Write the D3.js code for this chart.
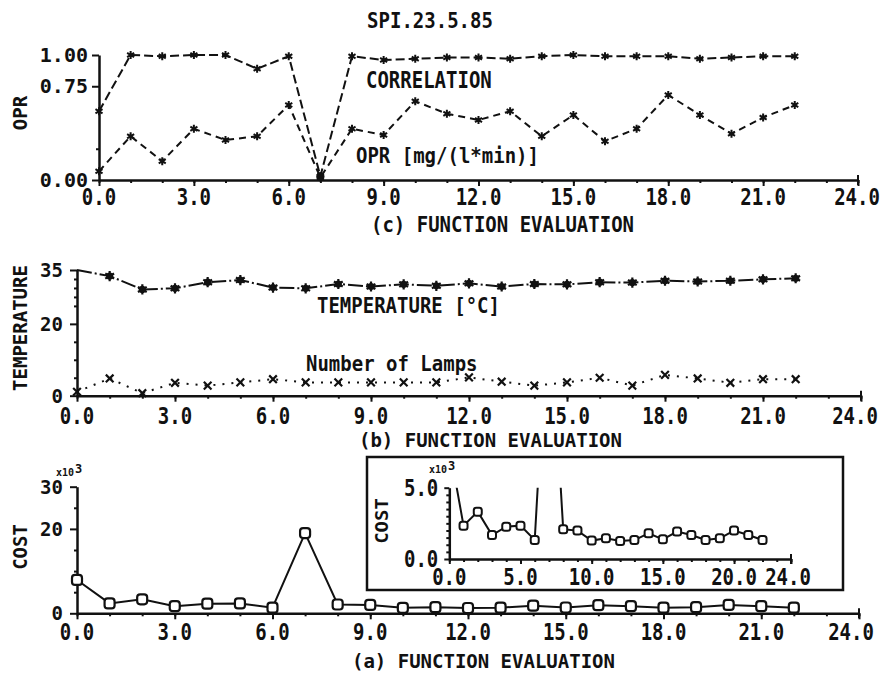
<!DOCTYPE html>
<html>
<head>
<meta charset="utf-8">
<script src="https://cdn.jsdelivr.net/npm/d3@7"></script>
<style>
  html, body { margin: 0; padding: 0; background: #fff; }
  svg { display: block; }
  text { font-family: "DejaVu Sans Mono", "Liberation Mono", monospace; font-weight: bold; fill: #111; }
</style>
</head>
<body>
<svg id="chart" width="882" height="677"></svg>
<script>
// Function evaluation index (x) shared by all three panels
const evals = [0,1,2,3,4,5,6,7,8,9,10,11,12,13,14,15,16,17,18,19,20,21,22];

// (c) correlation and OPR [mg/(l*min)]
const correlation = [0.55,1.00,0.99,1.00,1.00,0.89,0.99,0.03,0.99,0.96,0.97,0.98,0.98,0.97,0.99,1.00,0.99,0.99,0.99,0.97,0.98,0.99,0.99];
const opr = [0.07,0.35,0.15,0.41,0.32,0.35,0.60,0.02,0.41,0.36,0.63,0.53,0.48,0.55,0.35,0.52,0.31,0.41,0.68,0.52,0.37,0.50,0.60];

// (b) temperature [°C] and number of lamps
const temperature = [35.0,33.3,29.6,29.9,31.6,32.2,30.1,29.9,31.1,30.4,31.0,30.6,31.3,30.4,31.1,31.0,31.6,31.5,32.0,31.8,32.0,32.4,32.7];
const lamps = [1.1,4.8,0.7,3.6,2.8,3.7,4.6,3.7,3.7,3.7,3.7,3.7,5.1,3.9,2.8,3.7,5.0,2.8,5.8,4.8,3.6,4.6,4.6];

// (a) cost, in units of 10^3
const cost = [7.9,2.34,3.32,1.68,2.27,2.34,1.33,19.0,2.08,1.99,1.29,1.45,1.26,1.33,1.80,1.38,1.92,1.68,1.33,1.45,1.99,1.68,1.33];

// Tick values
const xMajorTicks = [0,3,6,9,12,15,18,21,24];
const xMinorTicks = [0,1,2,3,4,5,6,7,8,9,10,11,12,13,14,15,16,17,18,19,20,21,22,23,24];
const insetXMajorTicks = [0,5,10,15,20,24];
const oprTicks = [0,0.75,1];
const oprMinorTicks = [0.25];
const tempTicks = [0,20,35];
const tempMinorTicks = [5,10,15,25,27.5,30,32.5];
const costTicks = [0,20,30];
const costMinorTicks = [5,10,15,25];
const insetCostTicks = [0,5];
const insetCostMinorTicks = [0.5,1,1.5,2,2.5,3,3.5,4,4.5];

const svg = d3.select('#chart');

// Plotter-style lettering: tall, narrow monospace
function label(g, s, x, yc, o = {}) {
  const fs = o.fs || 19, sy = o.sy || 1.22, anchor = o.anchor || 'middle';
  const cap = 0.729 * fs * sy;
  const tr = o.rot
    ? `translate(${x},${yc}) rotate(-90) translate(0,${cap / 2}) scale(1,${sy})`
    : `translate(${x},${yc + cap / 2}) scale(1,${sy})`;
  return g.append('text').text(s)
    .attr('transform', tr)
    .attr('text-anchor', anchor)
    .attr('font-size', fs);
}

function styleAxis(sel, w) {
  sel.selectAll('path.domain').attr('stroke', '#111').attr('stroke-width', w);
  sel.selectAll('.tick line').attr('stroke', '#111').attr('stroke-width', 2);
  sel.selectAll('.tick text').remove();
}

function drawAxes(g, x, y, cfg) {
  const y0 = y(0), x0 = x(0);
  // x minor ticks
  g.append('g').attr('transform', `translate(0,${y0})`)
    .call(d3.axisBottom(x).tickValues(cfg.xMinor).tickSize(cfg.minorLen || 3).tickFormat(''))
    .call(s => s.select('path.domain').remove())
    .call(s => styleAxis(s, 2));
  // x major ticks and baseline
  g.append('g').attr('transform', `translate(0,${y0})`)
    .call(d3.axisBottom(x).tickValues(cfg.xMajor).tickSize(cfg.majorLen || 6).tickSizeOuter(0).tickFormat(''))
    .call(s => styleAxis(s, 2.5));
  // end tick crossing the axis
  g.append('line').attr('x1', x(24)).attr('x2', x(24))
    .attr('y1', y0 - 5).attr('y2', y0 + 5).attr('stroke', '#111').attr('stroke-width', 2);
  // y minor ticks
  g.append('g').attr('transform', `translate(${x0},0)`)
    .call(d3.axisLeft(y).tickValues(cfg.yMinor).tickSize(cfg.minorLen || 3).tickFormat(''))
    .call(s => s.select('path.domain').remove())
    .call(s => styleAxis(s, 2));
  // y major ticks and axis line
  g.append('g').attr('transform', `translate(${x0},0)`)
    .call(d3.axisLeft(y).tickValues(cfg.yMajor).tickSize(cfg.majorLen || 7).tickSizeOuter(0).tickFormat(''))
    .call(s => styleAxis(s, 2.5));
  // tick labels; the last x label is pulled in so it stays on the sheet
  const last = cfg.xMajor[cfg.xMajor.length - 1];
  cfg.xMajor.forEach(v => {
    const px = (v === last && cfg.lastShift) ? x(v) - cfg.lastShift : x(v);
    label(g, d3.format('.1f')(v), px, y0 + cfg.xLabelGap, { fs: 19, sy: 1.22 });
  });
  cfg.yMajor.forEach(v => label(g, cfg.yFormat(v), x0 - cfg.yLabelGap, y(v), { fs: cfg.yFs || 19, sy: cfg.ySy || 1.02, anchor: 'end' }));
}

function asterisk(g, pts, r, w) {
  const sym = d3.symbol(d3.symbolAsterisk, r * r * 2.9);
  g.selectAll(null).data(pts).join('path')
    .attr('d', sym)
    .attr('transform', d => `translate(${d[0]},${d[1]})`)
    .attr('fill', 'none').attr('stroke', '#111').attr('stroke-width', w);
}

// ---------------- (c) correlation / OPR ----------------
const xC = d3.scaleLinear().domain([0, 24]).range([99, 858]);
const yC = d3.scaleLinear().domain([0, 1]).range([180, 55]);
const gC = svg.append('g');

label(gC, 'SPI.23.5.85', 430, 20.5, { fs: 19, sy: 1.08 });

drawAxes(gC, xC, yC, {
  xMajor: xMajorTicks, xMinor: xMinorTicks,
  yMajor: oprTicks, yMinor: oprMinorTicks,
  yFormat: d3.format('.2f'), xLabelGap: 17, yLabelGap: 11, yFs: 20, ySy: 0.98,
  lastShift: 1
});

const lineC = d3.line().x(d => xC(d[0])).y(d => yC(d[1]));
const corrPts = evals.map((e, i) => [e, correlation[i]]);
const oprPts = evals.map((e, i) => [e, opr[i]]);
gC.append('path').attr('d', lineC(corrPts)).attr('fill', 'none')
  .attr('stroke', '#111').attr('stroke-width', 2).attr('stroke-dasharray', '9,4');
gC.append('path').attr('d', lineC(oprPts)).attr('fill', 'none')
  .attr('stroke', '#111').attr('stroke-width', 2).attr('stroke-dasharray', '7,5');
asterisk(gC, corrPts.map(d => [xC(d[0]), yC(d[1])]), 4, 2);
asterisk(gC, oprPts.map(d => [xC(d[0]), yC(d[1])]), 4, 2);
// coinciding points at the failed evaluation
gC.append('circle').attr('cx', xC(7)).attr('cy', yC(0.03)).attr('r', 4).attr('fill', '#111');

label(gC, 'CORRELATION', 366, 80, { anchor: 'start' });
label(gC, 'OPR [mg/(l*min)]', 356, 155, { anchor: 'start', sy: 1.1 });
label(gC, 'OPR', 20, 113, { rot: true, sy: 1.05 });
label(gC, '(c) FUNCTION EVALUATION', 371, 224, { anchor: 'start', sy: 1.1 });

// ---------------- (b) temperature / lamps ----------------
const xB = d3.scaleLinear().domain([0, 24]).range([77, 861]);
const yB = d3.scaleLinear().domain([0, 35]).range([395.7, 270]);
const gB = svg.append('g');

drawAxes(gB, xB, yB, {
  xMajor: xMajorTicks, xMinor: xMinorTicks,
  yMajor: tempTicks, yMinor: tempMinorTicks,
  yFormat: d3.format('d'), xLabelGap: 20, yLabelGap: 14,
  lastShift: 6
});

const lineB = d3.line().x(d => xB(d[0])).y(d => yB(d[1]));
const tempPts = evals.map((e, i) => [e, temperature[i]]);
const lampPts = evals.map((e, i) => [e, lamps[i]]);
gB.append('path').attr('d', lineB(tempPts)).attr('fill', 'none')
  .attr('stroke', '#111').attr('stroke-width', 2).attr('stroke-dasharray', '15,3,2,3');
gB.append('path').attr('d', lineB(lampPts)).attr('fill', 'none')
  .attr('stroke', '#111').attr('stroke-width', 2).attr('stroke-dasharray', '2,7');
const tempXY = tempPts.slice(1).map(d => [xB(d[0]), yB(d[1])]);
gB.selectAll(null).data(tempXY).join('circle')
  .attr('cx', d => d[0]).attr('cy', d => d[1]).attr('r', 3.6).attr('fill', '#111');
asterisk(gB, tempXY, 5, 2.2);
gB.selectAll(null).data(lampPts).join('path')
  .attr('d', d3.symbol(d3.symbolTimes, 40))
  .attr('transform', d => `translate(${xB(d[0])},${yB(d[1])})`)
  .attr('fill', 'none').attr('stroke', '#111').attr('stroke-width', 2.2);

label(gB, 'TEMPERATURE [°C]', 317, 305, { anchor: 'start', sy: 1.1 });
label(gB, 'Number of Lamps', 306, 363, { anchor: 'start', sy: 1.1 });
label(gB, 'TEMPERATURE', 20, 328, { rot: true, sy: 1.05 });
label(gB, '(b) FUNCTION EVALUATION', 359, 440, { anchor: 'start', sy: 1.05 });

// ---------------- (a) cost ----------------
const xA = d3.scaleLinear().domain([0, 24]).range([77, 859]);
const yA = d3.scaleLinear().domain([0, 30]).range([613.3, 486.7]);
const gA = svg.append('g');

drawAxes(gA, xA, yA, {
  xMajor: xMajorTicks, xMinor: xMinorTicks,
  yMajor: costTicks, yMinor: costMinorTicks,
  yFormat: d3.format('d'), xLabelGap: 18, yLabelGap: 14,
  lastShift: 8
});

function exponent(g, x, baseline) {
  g.append('text').text('x10').attr('x', x).attr('y', baseline).attr('font-size', 10);
  g.append('text').text('3').attr('x', x + 19).attr('y', baseline - 3).attr('font-size', 12);
}
exponent(gA, 56, 476);

const costPts = evals.map((e, i) => [e, cost[i]]);
const lineA = d3.line().x(d => xA(d[0])).y(d => yA(d[1]));
gA.append('path').attr('d', lineA(costPts)).attr('fill', 'none')
  .attr('stroke', '#111').attr('stroke-width', 2);
gA.selectAll(null).data(costPts).join('rect')
  .attr('x', d => xA(d[0]) - 5).attr('y', d => yA(d[1]) - 5)
  .attr('width', 10).attr('height', 10).attr('rx', 3)
  .attr('fill', '#fff').attr('stroke', '#111').attr('stroke-width', 2.2);

label(gA, 'COST', 20, 547, { rot: true, sy: 1.05 });
label(gA, '(a) FUNCTION EVALUATION', 352, 661, { anchor: 'start', sy: 1.05 });

// ---------------- inset: cost, zoomed to 0..5 x10^3 ----------------
const gI = svg.append('g');
gI.append('rect').attr('x', 367).attr('y', 457).attr('width', 476).attr('height', 133)
  .attr('fill', '#fff').attr('stroke', '#111').attr('stroke-width', 2.5);

const xI = d3.scaleLinear().domain([0, 24]).range([449.3, 791]);
const yI = d3.scaleLinear().domain([0, 5]).range([559, 487.7]);

drawAxes(gI, xI, yI, {
  xMajor: insetXMajorTicks, xMinor: xMinorTicks,
  yMajor: insetCostTicks, yMinor: insetCostMinorTicks,
  yFormat: d3.format('.1f'), xLabelGap: 18, yLabelGap: 11, ySy: 1.22,
  majorLen: 5, minorLen: 3, lastShift: 3
});
exponent(gI, 429, 473);

svg.append('defs').append('clipPath').attr('id', 'insetClip')
  .append('rect').attr('x', xI(0)).attr('y', yI(5))
  .attr('width', xI(24) - xI(0)).attr('height', yI(0) - yI(5));

const lineI = d3.line().x(d => xI(d[0])).y(d => yI(d[1]));
const gIc = gI.append('g').attr('clip-path', 'url(#insetClip)');
gIc.append('path').attr('d', lineI(costPts)).attr('fill', 'none')
  .attr('stroke', '#111').attr('stroke-width', 2);
gIc.selectAll(null).data(costPts.filter(d => d[1] <= 5)).join('rect')
  .attr('x', d => xI(d[0]) - 4).attr('y', d => yI(d[1]) - 4)
  .attr('width', 8).attr('height', 8).attr('rx', 2.5)
  .attr('fill', '#fff').attr('stroke', '#111').attr('stroke-width', 2);

label(gI, 'COST', 381, 521, { rot: true, sy: 0.95 });
</script>
</body>
</html>
